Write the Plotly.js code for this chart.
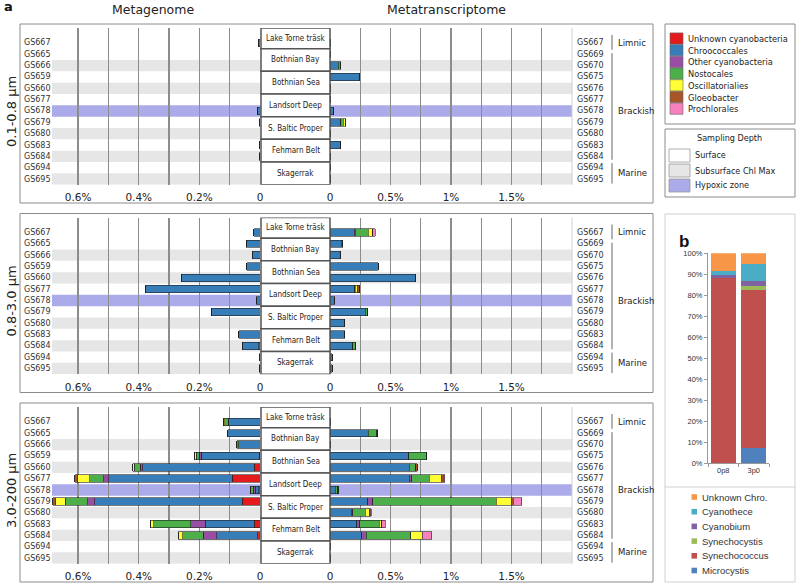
<!DOCTYPE html>
<html><head><meta charset="utf-8">
<script src="https://cdn.plot.ly/plotly-3.0.1.min.js"></script>
<style>html,body{margin:0;padding:0;background:#fff}</style>
</head><body><div id="chart" style="width:796px;height:583px"></div>
<script>
// ---------------- DATA ----------------
const groups = ['Unknown cyanobacteria','Chroococcales','Other cyanobacteria','Nostocales','Oscillatorialies','Gloeobacter','Prochlorales'];
const groupColors = ['#E41A1C','#377EB8','#984EA3','#4DAF4A','#FFFF33','#A65628','#F781BF'];
const metagenomeSamples = ['GS667','GS665','GS666','GS659','GS660','GS677','GS678','GS679','GS680','GS683','GS684','GS694','GS695'];
const metatranscriptomeSamples = ['GS667','GS669','GS670','GS675','GS676','GS677','GS678','GS679','GS680','GS683','GS684','GS694','GS695'];
const rowDepth = ['surface','surface','chl','surface','chl','surface','hypoxic','surface','chl','surface','chl','surface','chl'];
const locations = ['Lake Torne träsk','Bothnian Bay','Bothnian Sea','Landsort Deep','S. Baltic Proper','Fehmarn Belt','Skagerrak'];
const locationRowStart = [-1.32, 0.5, 2.5, 4.5, 6.5, 8.5, 10.5];
const locationRowEnd   = [0.5, 2.5, 4.5, 6.5, 8.5, 10.5, 12.5];
const habitats = ['Limnic','Brackish','Marine'];
const habitatRowStart = [-0.7, 0.9, 10.6];
const habitatRowEnd   = [0.6, 10.3, 12.4];
const habitatLabelRow = [0, 6, 11.5];
const sizeFractions = ['0.1-0.8 µm','0.8-3.0 µm','3.0-200 µm'];
const leftTickVals  = [0,0.1,0.2,0.3,0.4,0.5,0.6];
const leftTickText  = ['0','','0.2%','','0.4%','','0.6%'];
const rightTickVals = [0,0.25,0.5,0.75,1,1.25,1.5,1.75];
const rightTickText = ['0','','0.5%','','1%','','1.5%',''];
const depthNames = ['Surface','Subsurface Chl Max','Hypoxic zone'];
const depthColors = ['#FFFFFF','#E6E6E6','#ABABEA'];

// rows = groups (in legend order), columns = 13 samples; values in %
const metaG_01_08 = [
  [0,0,0,0,0,0,0,0,0,0,0,0,0],
  [0.004,0,0,0,0,0,0.008,0,0,0.003,0.003,0,0],
  [0,0,0,0,0,0,0,0,0,0,0,0,0],
  [0,0,0,0,0,0,0,0,0,0,0,0,0],
  [0,0,0,0,0,0,0,0.003,0,0,0,0,0],
  [0,0,0,0,0,0,0,0,0,0,0,0,0],
  [0,0,0,0,0,0,0,0,0,0,0,0,0]];
const metaT_01_08 = [
  [0,0,0,0,0,0,0,0,0,0,0,0,0],
  [0.004,0,0.070,0.243,0.005,0,0.030,0.089,0.003,0.083,0.003,0.003,0.003],
  [0,0,0,0,0,0,0,0,0,0,0,0,0],
  [0,0,0.015,0,0,0,0,0.022,0,0,0,0,0],
  [0,0,0.004,0,0,0,0,0.020,0,0,0,0,0],
  [0,0,0,0,0,0,0,0,0,0,0,0,0],
  [0,0,0,0,0,0,0,0,0,0,0,0,0]];
const metaG_08_30 = [
  [0,0,0,0,0,0,0,0,0,0,0.004,0,0.003],
  [0.020,0.045,0.024,0.043,0.259,0.377,0.012,0.161,0,0.070,0.053,0.003,0],
  [0,0,0,0,0,0,0,0,0,0,0,0,0],
  [0,0,0,0,0,0,0,0,0,0,0,0,0],
  [0,0,0,0,0,0,0,0,0,0,0,0,0],
  [0,0,0,0,0,0,0,0,0,0,0,0,0],
  [0,0,0,0,0,0,0,0,0,0,0,0,0]];
const metaT_08_30 = [
  [0,0,0,0,0,0,0,0,0,0,0,0,0],
  [0.200,0.094,0.083,0.397,0.708,0.205,0.039,0.292,0.122,0.122,0.189,0.019,0.019],
  [0.008,0,0,0,0,0.005,0,0,0,0,0,0,0],
  [0.110,0.011,0,0,0,0,0,0.015,0,0,0.022,0,0],
  [0.030,0,0,0,0,0.020,0,0.005,0,0,0,0,0],
  [0.005,0,0,0,0,0.015,0,0,0,0,0,0,0],
  [0.020,0,0,0,0,0,0,0,0,0,0,0,0]];
const metaG_30_200 = [
  [0,0,0,0.003,0.019,0.092,0.004,0.059,0,0.019,0.008,0,0],
  [0.105,0.107,0.070,0.190,0.368,0.407,0.012,0.486,0,0.162,0.134,0,0],
  [0,0,0,0.007,0.008,0.017,0.006,0.023,0,0.047,0.045,0,0],
  [0.012,0,0.004,0.010,0.020,0.045,0.010,0.074,0,0.123,0.068,0,0],
  [0.003,0,0.003,0.005,0.005,0.041,0,0.031,0,0.009,0.015,0,0],
  [0,0,0,0,0,0.009,0,0.011,0,0,0,0,0],
  [0,0,0,0,0,0,0,0,0,0,0,0,0]];
const metaT_30_200 = [
  [0,0,0,0,0,0,0,0,0,0,0,0,0],
  [0.003,0.315,0.003,0.650,0.653,0.656,0.044,0.311,0.175,0.219,0.261,0.004,0.004],
  [0,0,0,0,0,0.019,0,0.042,0.014,0.025,0.039,0,0],
  [0,0.070,0,0.144,0.056,0.147,0.020,1.022,0.103,0.161,0.367,0,0],
  [0,0.008,0,0,0,0.103,0,0.128,0.031,0.022,0.097,0,0],
  [0,0,0,0,0.014,0.012,0.005,0.011,0.008,0,0,0,0],
  [0,0,0,0,0,0.013,0,0.069,0.011,0.028,0.078,0,0]];

// panel b
const bCategories = ['0p8','3p0'];
const bGroups = ['Microcystis','Synechococcus','Synechocystis','Cyanobium','Cyanothece','Unknown Chro.'];
const bColors = ['#4F81BD','#C0504D','#9BBB59','#8064A2','#4BACC6','#F79646'];
const bMicrocystis   = [0, 7.4];
const bSynechococcus = [88.1, 75.1];
const bSynechocystis = [0, 1.9];
const bCyanobium     = [1.6, 2.4];
const bCyanothece    = [1.9, 8.0];
const bUnknownChro   = [8.4, 5.2];
const bValues = [bMicrocystis,bSynechococcus,bSynechocystis,bCyanobium,bCyanothece,bUnknownChro];
const bTickVals = [0,10,20,30,40,50,60,70,80,90,100];
const bTickText = ['0%','10%','20%','30%','40%','50%','60%','70%','80%','90%','100%'];

// ---------------- LAYOUT HELPERS ----------------
const W = 796, H = 583;
const fx = p => p / W;
const fy = p => 1 - p / H;
const panelTop = [24, 213.5, 403];
const panelData = [[metaG_01_08, metaT_01_08],[metaG_08_30, metaT_08_30],[metaG_30_200, metaT_30_200]];
const rows = metagenomeSamples.map((_, i) => i);
const narrow = 'DejaVu Sans Condensed, Liberation Sans Narrow, DejaVu Sans, sans-serif';
const xlfont = 'Liberation Sans, Arial, sans-serif';

const traces = [];
const layout = {
  width: W, height: H,
  margin: {l:0, r:0, t:0, b:0},
  paper_bgcolor: '#ffffff', plot_bgcolor: 'rgba(0,0,0,0)',
  font: {family: 'DejaVu Sans, sans-serif', color: '#333', size: 10},
  barmode: 'stack', showlegend: false,
  shapes: [], annotations: []
};
function ann(o) {
  layout.annotations.push(Object.assign({showarrow:false, xanchor:'center', yanchor:'middle', xref:'paper', yref:'paper'}, o));
}
const xCommon = {showgrid:true, gridcolor:'#8c8c8c', gridwidth:1.2, zeroline:false, showline:false,
  ticks:'', tickmode:'array', ticklabelstandoff:5, tickfont:{size:10.5, color:'#222'}, fixedrange:true};

panelData.forEach((pd, k) => {
  const T = panelTop[k];
  const yId = k === 0 ? 'y' : 'y' + (k + 1);
  const xL = 'x' + (2*k + 1 === 1 ? '' : 2*k + 1);
  const xR = 'x' + (2*k + 2);
  layout['xaxis' + (2*k + 1 === 1 ? '' : 2*k + 1)] = Object.assign({}, xCommon,
    {domain:[fx(52), fx(260)], range:[0.686, 0], anchor: yId, tickvals: leftTickVals, ticktext: leftTickText});
  layout['xaxis' + (2*k + 2)] = Object.assign({}, xCommon,
    {domain:[fx(330), fx(572)], range:[0, 2], anchor: yId, tickvals: rightTickVals, ticktext: rightTickText});
  layout['yaxis' + (k === 0 ? '' : k + 1)] = {domain:[fy(T + 160.7), fy(T + 4)], range:[12.5, -1.32],
    anchor: xL, visible:false, fixedrange:true};

  [[pd[0], xL], [pd[1], xR]].forEach(([mat, xa]) => {
    groups.forEach((g, i) => {
      traces.push({type:'bar', orientation:'h', x: mat[i], y: rows, width: 0.65,
        xaxis: xa, yaxis: yId, name: g,
        marker:{color: groupColors[i], line:{color:'#222', width:0.6}}, hoverinfo:'skip'});
    });
  });

  // panel border
  layout.shapes.push({type:'rect', xref:'paper', yref:'paper', x0:fx(20), x1:fx(653), y0:fy(T + 179), y1:fy(T),
    line:{color:'#8c8c8c', width:1}, fillcolor:'rgba(0,0,0,0)', layer:'above'});
  // row bands
  rowDepth.forEach((d, r) => {
    if (d === 'surface') return;
    layout.shapes.push({type:'rect', xref:'paper', yref: yId, x0:fx(52), x1:fx(572), y0:r - 0.5, y1:r + 0.5,
      fillcolor: d === 'hypoxic' ? depthColors[2] : depthColors[1], line:{width:0}, layer:'below'});
  });
  // right edge line of plot
  layout.shapes.push({type:'line', xref:'paper', yref: yId, x0:fx(572), x1:fx(572), y0:-1.32, y1:12.5,
    line:{color:'#cfcfcf', width:1}, layer:'below'});
  // center location boxes
  locations.forEach((loc, j) => {
    layout.shapes.push({type:'rect', xref:'paper', yref: yId, x0:fx(261), x1:fx(330),
      y0: locationRowStart[j], y1: locationRowEnd[j], fillcolor:'#ffffff', line:{color:'#555', width:1.5}, layer:'above'});
    ann({yref: yId, x: fx(295.5), y: (locationRowStart[j] + locationRowEnd[j]) / 2,
      text: loc, font:{family: narrow, size:8, color:'#222'}});
  });
  // sample labels
  metagenomeSamples.forEach((s, r) => ann({yref: yId, x: fx(22), y: r, xanchor:'left', text: s, font:{size:8, color:'#333'}}));
  metatranscriptomeSamples.forEach((s, r) => ann({yref: yId, x: fx(575), y: r, xanchor:'left', text: s, font:{size:8, color:'#333'}}));
  // habitat brackets
  habitats.forEach((h, j) => {
    layout.shapes.push({type:'line', xref:'paper', yref: yId, x0:fx(612), x1:fx(612),
      y0: habitatRowStart[j], y1: habitatRowEnd[j], line:{color:'#666', width:1}});
    ann({yref: yId, x: fx(616), y: habitatLabelRow[j], xanchor:'left', text: h, font:{size:8.5, color:'#222'}});
  });
  // size fraction label
  ann({x: fx(11), y: fy(T + 88), text: sizeFractions[k], textangle:-90, font:{size:13, color:'#222'}});
});

// titles
ann({x:fx(2), y:fy(7), xanchor:'left', text:'<b>a</b>', font:{size:13, color:'#111'}});
ann({x:fx(153), y:fy(10), text:'Metagenome', font:{size:12.5, color:'#222'}});
ann({x:fx(446), y:fy(10), text:'Metatranscriptome', font:{size:12.5, color:'#222'}});

// legend 1 (taxa)
layout.shapes.push({type:'rect', xref:'paper', yref:'paper', x0:fx(665), x1:fx(795), y0:fy(124), y1:fy(24),
  line:{color:'#8c8c8c', width:1}, fillcolor:'rgba(0,0,0,0)'});
groups.forEach((g, i) => {
  const cy = 38.5 + i * 11.7;
  layout.shapes.push({type:'rect', xref:'paper', yref:'paper', x0:fx(670), x1:fx(683), y0:fy(cy + 5.6), y1:fy(cy - 5.6),
    fillcolor: groupColors[i], line:{color:'#666', width:0.6}});
  ann({x:fx(686), y:fy(cy), xanchor:'left', text:g, font:{family: narrow, size:9.2, color:'#222'}});
});
// legend 2 (sampling depth)
layout.shapes.push({type:'rect', xref:'paper', yref:'paper', x0:fx(665), x1:fx(795), y0:fy(197), y1:fy(129),
  line:{color:'#8c8c8c', width:1}, fillcolor:'rgba(0,0,0,0)'});
ann({x:fx(729), y:fy(137.5), text:'Sampling Depth', font:{family: narrow, size:9, color:'#222'}});
depthNames.forEach((d, i) => {
  const cy = 155.5 + i * 15;
  layout.shapes.push({type:'rect', xref:'paper', yref:'paper', x0:fx(669), x1:fx(690), y0:fy(cy + 6.5), y1:fy(cy - 6.5),
    fillcolor: depthColors[i], line:{color:'#999', width:0.8}});
  ann({x:fx(693), y:fy(cy), xanchor:'left', text:d, font:{family: narrow, size:9, color:'#222'}});
});

// panel b
layout.shapes.push({type:'rect', xref:'paper', yref:'paper', x0:fx(665), x1:fx(795), y0:fy(582), y1:fy(214),
  line:{color:'#d0d0d0', width:1}, fillcolor:'rgba(0,0,0,0)'});
layout.shapes.push({type:'line', xref:'paper', yref:'paper', x0:fx(665), x1:fx(795), y0:fy(487), y1:fy(487),
  line:{color:'#d0d0d0', width:1}});
ann({x:fx(677), y:fy(241), xanchor:'left', text:'<b>b</b>', font:{family:xlfont, size:17, color:'#111'}});
layout.xaxis7 = {domain:[fx(708), fx(769)], anchor:'y4', type:'category', showline:true, linecolor:'#999', linewidth:1,
  ticks:'outside', tickson:'boundaries', ticklen:3, tickcolor:'#999', showgrid:false, zeroline:false,
  tickfont:{family:xlfont, size:7.5, color:'#333'}, fixedrange:true};
layout.yaxis4 = {domain:[fy(463.3), fy(253.3)], anchor:'x7', range:[0,100], tickmode:'array',
  tickvals: bTickVals, ticktext: bTickText, showline:true, linecolor:'#999', linewidth:1,
  ticks:'outside', ticklen:3, tickcolor:'#999', showgrid:false, zeroline:false,
  tickfont:{family:xlfont, size:7.5, color:'#333'}, fixedrange:true};
bGroups.forEach((g, i) => {
  traces.push({type:'bar', x: bCategories, y: bValues[i], width: 0.82, xaxis:'x7', yaxis:'y4', name:g,
    marker:{color: bColors[i], line:{width:0}}, hoverinfo:'skip'});
});
// panel b legend (top to bottom = reverse stack order)
bGroups.slice().reverse().forEach((g, j) => {
  const i = bGroups.length - 1 - j;
  const cy = 497 + j * 14.7;
  layout.shapes.push({type:'rect', xref:'paper', yref:'paper', x0:fx(691.5), x1:fx(697), y0:fy(cy + 2.8), y1:fy(cy - 2.8),
    fillcolor: bColors[i], line:{width:0}});
  ann({x:fx(700), y:fy(cy), xanchor:'left', text:g, font:{family:xlfont, size:9.5, color:'#333'}});
});

Plotly.newPlot('chart', traces, layout, {staticPlot:true, displayModeBar:false});
</script>
</body></html>
